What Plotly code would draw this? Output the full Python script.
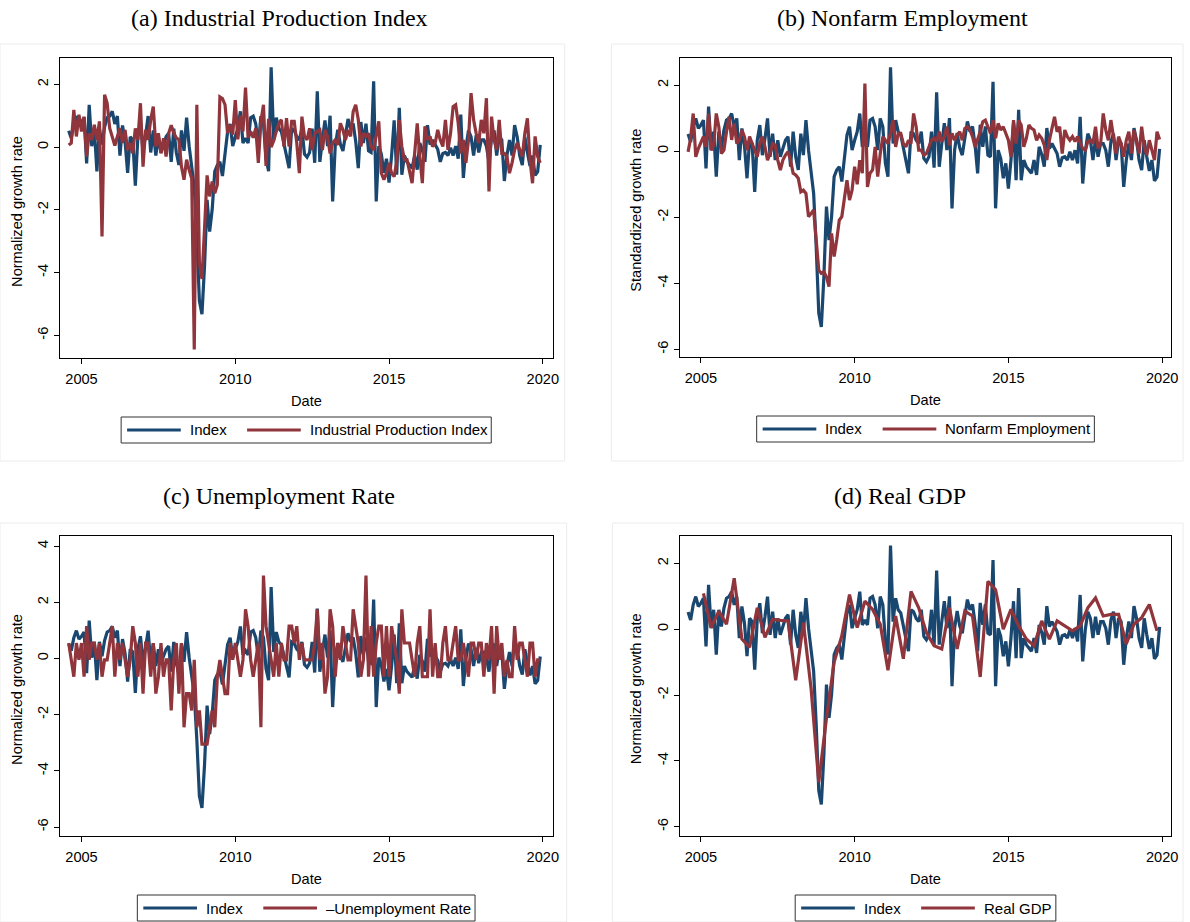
import plotly.graph_objects as go
import pandas as pd

W, H = 1190, 922
NAVY = "#1a476f"
MAROON = "#90353b"
SANS = "Liberation Sans, Arial, Helvetica, sans-serif"
SERIF = "Liberation Serif, Times New Roman, serif"
FS = 14.6
LW = 3.2

# ---- dates -------------------------------------------------------------
months = pd.period_range("2004-08", "2019-12", freq="M")
month_x = [p.year + (p.month - 1) / 12 for p in months]
quarters = pd.period_range("2005Q1", "2019Q4", freq="Q")
quarter_x = [q.year + (3 * q.quarter - 2) / 12 for q in quarters]

# ---- series (standardized growth rates) --------------------------------
index_rate = [
    0.52, 0.28, 0.74, 0.99, 0.69,                                                   # 2004 Aug-Dec
    0.79, 0.94, -0.52, 1.35, 0.03, 0.59, -0.77, 0.59, 0.08, 0.64, 0.94, 0.99,       # 2005
    1.14, 0.74, 0.99, -0.27, 0.69, 0.18, -0.82, 0.33, 0.23, -1.23, 0.33, 0.79,      # 2006
    -0.12, 0.38, 0.99, -0.17, 0.53, -0.27, 0.33, -0.17, 0.08, 0.33, 0.44, -0.47,    # 2007
    0.59, -0.17, -0.57, 0.53, -0.12, 0.94, 0.03, -0.57, -1.28, -2.90, -4.90, -5.32, # 2008
    -3.80, -1.68, -2.69, -1.98, -0.77, -0.57, -0.47, -0.92, -0.27, 0.49, 0.74, 0.03,# 2009
    0.33, 0.59, 1.14, 0.13, 0.28, 0.13, 0.94, 0.99, 0.74, 0.03, 0.99, 0.74,         # 2010
    -0.37, -0.77, 2.54, 0.23, 0.94, 0.59, 0.49, 0.08, -0.27, -0.67, 0.59, 0.53,     # 2011
    0.33, 0.23, 0.59, -0.22, -0.32, -0.17, 0.59, -0.50, 1.78, -0.47, 0.23, 0.85,    # 2012
    0.03, 1.00, -1.73, 0.03, 0.55, 0.10, -0.12, 0.33, 0.90, 0.59, 0.75, 0.18,       # 2013
    -0.67, 0.80, 0.13, 0.75, -0.12, -0.17, 2.10, -1.73, 0.03, -0.22, -0.82, -0.37,  # 2014
    -1.13, -0.27, 0.85, -0.88, 1.25, -0.88, -0.27, -0.47, -0.57, -0.67, -0.27, -0.72,  # 2015
    0.13, -0.10, -0.47, 0.70, 0.08, 0.23, 0.08, -0.07, -0.47, -0.20, -0.17, -0.27,  # 2016
    -0.02, -0.27, 0.03, -0.37, 1.04, -0.98, -0.02, 0.53, 0.33, -0.27, 0.38, -0.17,  # 2017
    0.23, 0.23, 0.03, -0.47, 0.28, 0.53, -0.27, 0.33, 0.23, -1.08, -0.27, 0.23,     # 2018
    -0.27, 0.70, 0.33, -0.27, -0.57, 0.33, -0.17, -0.60, -0.27, -0.90, -0.78, 0.07, # 2019
]

ip_rate = [
    0.07, 0.13, 1.19, 0.34, 1.03,
    0.50, 0.97, -0.30, 0.44, 0.23, 0.71, 0.23, 0.82, -2.85, 1.67, 1.40, 0.60,
    0.30, 0.05, 0.34, 0.60, 0.13, 0.55, -0.09, 0.13, -0.20, 0.60, 0.23, 1.40,
    -0.62, 0.55, 0.23, 0.87, 1.29, 0.02, 0.44, -0.20, 0.28, -0.30, 0.44, 0.70,
    0.45, 0.30, 0.23, -0.62, -1.04, -0.40, -0.72, -1.00, -6.45, 1.35, -3.70, -4.20,
    -2.60, -0.90, -1.57, -1.10, -1.47, -1.20, 1.60, 1.55, 1.35, 0.45, 0.70, 0.40,
    1.50, 0.25, 1.00, 0.50, 1.90, 0.30, 0.50, 0.30, 0.60, -0.50, 0.80, 1.35,
    -0.60, 0.90, 0.00, 0.20, 0.50, 0.76, 0.87, 0.02, 0.92, 0.02, 0.82, 0.82,
    0.13, -0.83, 0.97, 0.34, 0.23, 0.60, -0.09, 0.44, 0.50, 0.55, -0.09, 0.55,
    0.34, -0.20, 0.13, 0.23, 0.07, 0.76, 0.55, 0.23, 0.55, 0.34, 1.13, 1.35,
    0.87, 0.02, 0.44, 0.34, 0.44, 0.02, -0.09, 0.34, 0.82, -0.83, -1.04, -0.83,
    -0.50, -0.83, -0.94, -0.46, 0.87, 0.02, -0.40, -0.40, -0.83, -1.15, -0.20, 0.76,
    -0.30, -1.15, 0.66, 0.23, 0.34, 0.02, 0.13, 0.55, 0.23, 0.02, 0.87, -0.09,
    0.44, 1.29, 1.35, 0.76, -0.20, 0.23, -0.50, 0.23, 1.72, 0.87, 0.44, 0.13,
    0.87, 0.44, 1.56, -1.41, 0.97, 0.23, -0.09, 0.87, -0.20, -0.20, -0.30, -0.83,
    -0.50, -0.09, 0.13, -0.09, -0.30, 0.44, 0.92, -0.40, -1.15, 0.34, -0.30, -0.50,
]

nonfarm_rate = [
    -0.02, 0.39, 1.14, -0.17, 0.08,
    0.29, 0.44, 0.13, 1.14, 0.03, 0.18, 1.14, 0.74, -0.07, 0.03, 0.59, 1.04,
    0.34, 0.84, 0.23, 0.33, 0.64, 0.44, 0.03, 0.44, 0.23, 0.03, -0.17, 0.23,
    0.44, 0.13, -0.27, -0.07, 0.23, 0.18, -0.27, -0.57, -0.27, -0.12, -0.02, -0.27,
    -0.67, -0.72, -0.82, -1.23, -1.18, -1.28, -1.98, -1.89, -1.78, -2.69, -3.60, -3.70,
    -3.65, -3.80, -4.10, -2.49, -3.19, -2.69, -2.09, -1.98, -1.48, -0.88, -1.48, -1.18,
    -0.47, -1.00, -0.27, -0.67, 2.05, -1.08, -0.67, -0.57, 0.13, -0.77, -0.07, 0.44,
    0.33, 0.23, 0.54, 0.94, 0.13, 0.54, 0.54, 0.23, 0.13, 0.33, 0.23, 1.14,
    0.74, 0.03, 0.03, -0.12, -0.07, 0.13, 0.33, 0.39, 0.29, 0.59, 0.29, 0.44,
    0.74, 0.18, 0.54, 0.33, 0.49, 0.59, 0.33, 0.69, 0.74, 0.64, 0.44, 0.13,
    0.33, 0.59, 0.89, 0.94, 0.74, 0.54, 0.94, 0.39, 0.84, 0.64, 0.74, 0.54,
    0.33, -0.17, 0.94, 0.23, 0.94, 0.79, 0.13, 0.39, 0.79, 0.69, 0.64, 0.33,
    0.49, 0.39, 0.18, -0.27, 0.33, 0.69, 1.04, 0.59, 0.74, -0.07, 0.64, 0.44,
    0.33, 0.44, 0.29, 0.44, 0.23, 0.08, 0.03, 0.29, 0.33, 0.23, 0.74, 0.08,
    0.23, 1.14, 0.64, 0.33, 0.94, 0.44, -0.07, 0.44, 0.23, -0.17, 0.33, 0.59,
    -0.07, 0.64, 0.23, -0.07, 0.74, 0.13, -0.12, 0.33, 0.03, -0.27, 0.59, 0.35,
]

neg_unemp_rate = [
    0.55, -0.05, -0.65, 0.55, -0.05,
    0.55, -0.65, 1.15, -0.05, 0.55, 0.55, -0.05, 0.55, -0.65, -0.05, -0.05, 0.55,
    1.15, -0.65, 0.55, -0.05, 0.55, -0.05, -0.65, -0.05, 1.15, 0.55, -0.65, 0.55,
    -1.25, 0.55, 0.55, -0.65, 0.55, -1.25, -0.65, 0.55, -0.65, -0.05, -0.05, -1.85,
    -0.05, 0.55, -1.25, 0.55, -2.45, -1.25, -1.25, -1.85, -0.05, -2.45, -1.85, -3.05,
    -3.05, -3.05, -2.45, -1.85, -2.45, -0.65, -0.05, -0.65, -1.25, -1.25, 0.55, -0.05,
    0.55, -0.05, -0.65, -0.05, 1.75, 1.15, -0.05, -0.65, -0.05, 0.55, -2.45, 2.95,
    1.15, 0.55, -0.05, -0.65, 0.55, -0.65, 0.55, -0.05, -0.05, 1.15, 1.15, 0.55,
    1.15, -0.05, 0.55, -0.05, -0.05, -0.05, -0.05, 0.55, 1.75, -0.05, 0.55, -1.25,
    -0.65, 1.75, 1.15, -0.65, 0.55, -0.05, 1.15, 0.55, -0.05, -0.05, 1.75, 1.15,
    0.55, -0.65, -0.05, 2.95, -0.65, 1.15, -0.65, 0.55, 1.15, 1.15, -0.65, 1.15,
    -0.65, 1.15, 0.55, -0.05, -1.25, 1.75, 0.55, 0.55, 0.55, -0.05, -0.65, 0.55,
    1.15, -0.65, -0.65, -0.65, 1.75, -0.65, 0.55, -0.65, -0.65, 0.55, 1.15, -0.05,
    -0.05, 0.55, 1.15, -0.05, -0.05, 0.55, -0.05, -0.65, 0.55, 0.55, -0.05, 0.55,
    0.55, -0.65, 0.55, -0.05, 1.15, -1.25, 1.15, -0.05, 0.55, -0.65, -0.05, -0.65,
    -0.65, 1.15, -0.05, 0.55, 0.55, -0.05, -0.65, 0.55, 0.55, -0.65, -0.05, -0.05,
]

gdp_rate = [
    1.09, 0.05, 0.55, 0.15,      # 2005
    1.55, -0.30, -0.55, 0.65,    # 2006
    -0.25, 0.30, 0.27, 0.25,     # 2007
    -1.55, 0.20, -1.80, -4.65,   # 2008
    -2.70, -1.00, -0.20, 1.05,   # 2009
    0.05, 0.85, 0.60, 0.15,      # 2010
    -1.25, 0.40, -0.90, 1.15,    # 2011
    0.65, -0.10, -0.50, -0.60,   # 2012
    0.65, -0.60, 0.55, 0.40,     # 2013
    -1.45, 1.45, 1.20, 0.00,     # 2014
    0.60, 0.10, -0.30, -0.50,    # 2015
    0.25, -0.30, 0.25, 0.10,     # 2016
    -0.05, 0.10, 0.65, 0.95,     # 2017
    0.40, 0.45, 0.45, -0.45,     # 2018
    0.15, 0.35, 0.75, -0.05,     # 2019
]

x_ticks = [2005, 2010, 2015, 2020]
y_ticks = [-6, -4, -2, 0, 2]
y_ticks_c = [-6, -4, -2, 0, 2, 4]

# ---- panel layout (pixel boxes of the plot regions) ----------------------
panels = [
    dict(s="", box=(60, 58, 556, 358), xr=(2004.289, 2020.323), yr=(-6.72, 2.84),
         yt=y_ticks, title="(a) Industrial Production Index", tcx=281,
         ytitle="Normalized growth rate", ytx=17,
         label="Industrial Production Index", lw=177.6,
         rx=month_x, ry=ip_rate),
    dict(s="2", box=(684, 58, 1178, 357), xr=(2004.32, 2020.29), yr=(-6.23, 2.82),
         yt=y_ticks, title="(b) Nonfarm Employment", tcx=908,
         ytitle="Standardized growth rate", ytx=640,
         label="Nonfarm Employment", lw=145.0,
         rx=month_x, ry=nonfarm_rate),
    dict(s="3", box=(60, 536, 556, 836), xr=(2004.289, 2020.323), yr=(-6.32, 4.36),
         yt=y_ticks_c, title="(c) Unemployment Rate", tcx=281,
         ytitle="Normalized growth rate", ytx=17,
         label="\u2013Unemployment Rate", lw=145.0,
         rx=month_x, ry=neg_unemp_rate),
    dict(s="4", box=(684, 536, 1178, 836), xr=(2004.32, 2020.29), yr=(-6.28, 2.83),
         yt=y_ticks, title="(d) Real GDP", tcx=905,
         ytitle="Normalized growth rate", ytx=640,
         label="Real GDP", lw=67.5,
         rx=quarter_x, ry=gdp_rate),
]


def fx(px):
    return px / W


def fy(py):
    return 1 - py / H


def tick_text(vals):
    return [str(v) for v in vals]


fig = go.Figure()
layout = {}
shapes = []
annotations = []

# faint frames around each sub-graph
for x0, y0, x1, y1 in [(0, 44, 568, 461), (615, 44, 1190, 461),
                       (0, 523, 570, 922), (616, 523, 1190, 922)]:
    shapes.append(dict(type="rect", xref="paper", yref="paper",
                       x0=fx(x0), x1=fx(x1), y0=fy(y1), y1=fy(y0),
                       line=dict(color="#ececec", width=1), layer="below"))

for p in panels:
    s = p["s"]
    left, top, right, bottom = p["box"]
    xa, ya = "x" + s, "y" + s

    fig.add_trace(go.Scatter(x=month_x, y=index_rate, mode="lines", name="Index",
                             line=dict(color=NAVY, width=LW),
                             xaxis=xa, yaxis=ya, hoverinfo="skip"))
    fig.add_trace(go.Scatter(x=p["rx"], y=p["ry"], mode="lines", name=p["label"],
                             line=dict(color=MAROON, width=LW),
                             xaxis=xa, yaxis=ya, hoverinfo="skip"))

    common = dict(ticks="outside", ticklen=5, tickwidth=1, tickcolor="black",
                  showline=True, linecolor="black", linewidth=1.2, mirror=True,
                  showgrid=False, zeroline=False, fixedrange=True,
                  tickfont=dict(family=SANS, size=FS, color="black"))
    layout["xaxis" + s] = dict(domain=[fx(left), fx(right)], range=list(p["xr"]),
                               anchor=ya, tickmode="array", tickvals=x_ticks,
                               ticktext=tick_text(x_ticks), ticklabelstandoff=2,
                               **common)
    layout["yaxis" + s] = dict(domain=[fy(bottom), fy(top)], range=list(p["yr"]),
                               anchor=xa, tickmode="array", tickvals=p["yt"],
                               ticktext=tick_text(p["yt"]), tickangle=-90,
                               **common)

    cx = (left + right) / 2
    # panel title
    annotations.append(dict(text=p["title"], x=fx(p["tcx"]), y=fy(18 + top - 58),
                            xref="paper", yref="paper", showarrow=False,
                            xanchor="center", yanchor="middle",
                            font=dict(family=SERIF, size=24, color="black")))
    # axis titles
    annotations.append(dict(text=p["ytitle"], x=fx(p["ytx"]), y=fy((top + bottom) / 2 + 3),
                            xref="paper", yref="paper", showarrow=False, textangle=-90,
                            xanchor="center", yanchor="middle",
                            font=dict(family=SANS, size=FS, color="black")))
    annotations.append(dict(text="Date", x=fx(cx), y=fy(bottom + 43),
                            xref="paper", yref="paper", showarrow=False,
                            xanchor="center", yanchor="middle",
                            font=dict(family=SANS, size=FS, color="black")))

    # legend box
    pad, ln, gap, sep, idx_w = 6, 54, 9, 21, 36.7
    total = pad + ln + gap + idx_w + sep + ln + gap + p["lw"] + 5
    lx0 = cx - total / 2
    cy = bottom + 72
    shapes.append(dict(type="rect", xref="paper", yref="paper",
                       x0=fx(lx0), x1=fx(lx0 + total), y0=fy(cy + 13), y1=fy(cy - 13),
                       line=dict(color="#333333", width=1), fillcolor="white"))
    b0 = lx0 + pad
    shapes.append(dict(type="line", xref="paper", yref="paper",
                       x0=fx(b0), x1=fx(b0 + ln), y0=fy(cy), y1=fy(cy),
                       line=dict(color=NAVY, width=LW)))
    t0 = b0 + ln + gap
    annotations.append(dict(text="Index", x=fx(t0 - 1), y=fy(cy), xref="paper", yref="paper",
                            showarrow=False, xanchor="left", yanchor="middle", borderpad=0,
                            font=dict(family=SANS, size=15, color="black")))
    r0 = t0 + idx_w + sep
    shapes.append(dict(type="line", xref="paper", yref="paper",
                       x0=fx(r0), x1=fx(r0 + ln), y0=fy(cy), y1=fy(cy),
                       line=dict(color=MAROON, width=LW)))
    annotations.append(dict(text=p["label"], x=fx(r0 + ln + gap - 1), y=fy(cy),
                            xref="paper", yref="paper", showarrow=False,
                            xanchor="left", yanchor="middle", borderpad=0,
                            font=dict(family=SANS, size=15, color="black")))

fig.update_layout(
    width=W, height=H, autosize=False,
    margin=dict(l=0, r=0, t=0, b=0),
    paper_bgcolor="white", plot_bgcolor="white",
    showlegend=False,
    font=dict(family=SANS, size=FS, color="black"),
    shapes=shapes, annotations=annotations,
    **layout,
)

fig.write_html("out.html")
